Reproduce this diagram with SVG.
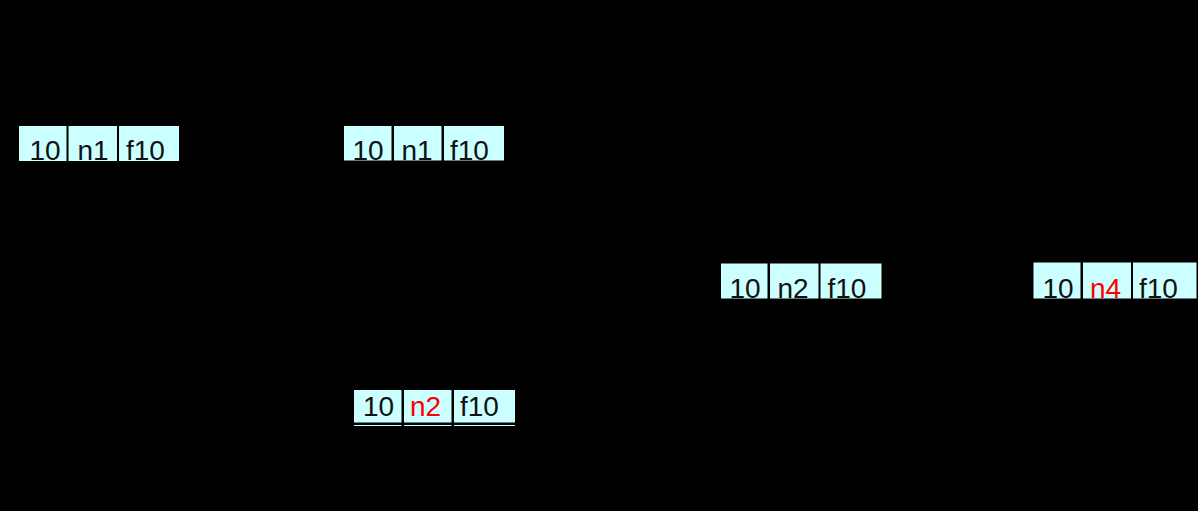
<svg xmlns="http://www.w3.org/2000/svg" width="1198" height="511" viewBox="0 0 1198 511">
<style>
.c{fill:#ccffff}
.t{font-family:"Liberation Sans",Arial,sans-serif;font-size:28px;fill:#111}
.r{fill:#ff0000}
.u{stroke:#ccffff;stroke-width:1.2}
</style>
<rect x="0" y="0" width="1198" height="511" fill="#000"/>
<g id="node1">
<rect class="c" x="19" y="126" width="47.5" height="35"/>
<rect class="c" x="68.5" y="126" width="48.5" height="35"/>
<rect class="c" x="119" y="126" width="60" height="35"/>
<text class="t" x="29.5" y="160">10</text>
<text class="t" x="77.5" y="160">n1</text>
<text class="t" x="126" y="160">f10</text>
</g>
<g id="node2">
<rect class="c" x="344" y="126" width="47.5" height="34.5"/>
<rect class="c" x="394" y="126" width="47.5" height="34.5"/>
<rect class="c" x="444" y="126" width="60" height="34.5"/>
<text class="t" x="352.5" y="160">10</text>
<text class="t" x="401.5" y="160">n1</text>
<text class="t" x="450" y="160">f10</text>
</g>
<g id="node3">
<rect class="c" x="721" y="263.5" width="46.5" height="35"/>
<rect class="c" x="770" y="263.5" width="48.5" height="35"/>
<rect class="c" x="820.5" y="263.5" width="61" height="35"/>
<text class="t" x="729.5" y="297.5">10</text>
<text class="t" x="777.5" y="297.5">n2</text>
<text class="t" x="827.5" y="297.5">f10</text>
</g>
<g id="node4">
<rect class="c" x="1033.5" y="262.5" width="47" height="36"/>
<rect class="c" x="1083" y="262.5" width="48" height="36"/>
<rect class="c" x="1133" y="262.5" width="63.5" height="36"/>
<text class="t" x="1042.5" y="297.5">10</text>
<text class="t r" x="1090" y="297.5">n4</text>
<text class="t" x="1139" y="297.5">f10</text>
</g>
<g id="node5">
<rect class="c" x="354" y="390" width="47.5" height="32.5"/>
<rect class="c" x="404" y="390" width="47.5" height="32.5"/>
<rect class="c" x="454" y="390" width="61" height="32.5"/>
<line class="u" x1="354" y1="425.5" x2="401.5" y2="425.5"/>
<line class="u" x1="404" y1="425.5" x2="451.5" y2="425.5"/>
<line class="u" x1="454" y1="425.5" x2="515" y2="425.5"/>
<text class="t" x="363" y="415.5">10</text>
<text class="t r" x="410" y="415.5">n2</text>
<text class="t" x="460" y="415.5">f10</text>
</g>
<g id="connectors"></g>
</svg>
